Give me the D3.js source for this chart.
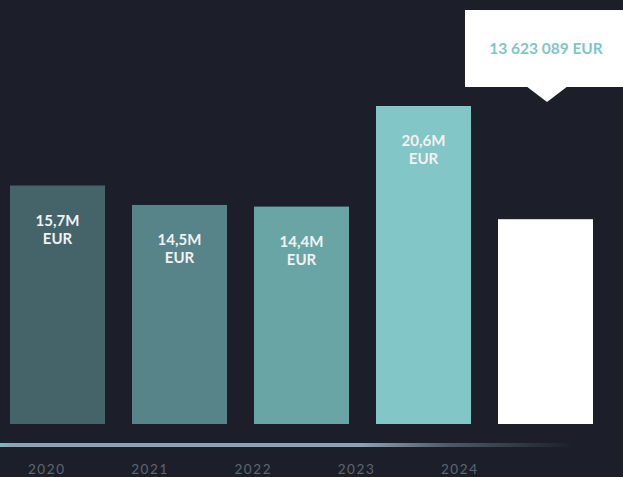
<!DOCTYPE html>
<html>
<head>
<meta charset="utf-8">
<script src="https://cdn.jsdelivr.net/npm/d3@7"></script>
<style>
  html, body { margin: 0; padding: 0; background: #1c1f29; overflow: hidden; }
  svg { display: block; }
</style>
</head>
<body>
<div id="chart"></div>
<script>
// data
var years = ["2020", "2021", "2022", "2023", "2024"];
var values = [15.7, 14.5, 14.4, 20.6, 13.623089];
var labels = ["15,7M", "14,5M", "14,4M", "20,6M", ""];
var barColors = ["#44646a", "#578488", "#6aa5a6", "#82c6c7", "#ffffff"];
var tooltipText = "13 623 089 EUR";

var width = 623, height = 477;

var svg = d3.select("#chart")
    .append("svg")
    .attr("width", width)
    .attr("height", height);

// scales
var x = d3.scaleBand()
    .domain(years)
    .range([10, 593])
    .paddingInner(0.221)
    .paddingOuter(0);

var y = d3.scaleLinear()
    .domain([1.0, 20.6])
    .range([424, 106]);

// year labels sit on their own, tighter spacing
var xLabel = d3.scalePoint()
    .domain(years)
    .range([46, 459]);

/*********************
 * BARS
*********************/
svg.append("g")
    .selectAll("rect")
    .data(years)
    .enter()
    .append("rect")
    .attr("x", function (d) { return Math.round(x(d)); })
    .attr("y", function (d, i) { return y(values[i]); })
    .attr("width", 95)
    .attr("height", function (d, i) { return y.range()[0] - y(values[i]); })
    .style("fill", function (d, i) { return barColors[i]; });

// value labels inside bars
var lbl = svg.append("g")
    .selectAll("text")
    .data(years.filter(function (d, i) { return labels[i] !== ""; }))
    .enter()
    .append("text")
    .attr("text-anchor", "middle")
    .style("font-family", "Lato, 'Open Sans', sans-serif")
    .style("font-weight", "700")
    .style("font-size", "15px")
    .style("fill", "#f2f2f2");

lbl.append("tspan")
    .attr("x", function (d) { return Math.round(x(d)) + 47.5; })
    .attr("y", function (d) { return y(values[years.indexOf(d)]) + 40; })
    .text(function (d) { return labels[years.indexOf(d)]; });

lbl.append("tspan")
    .attr("x", function (d) { return Math.round(x(d)) + 47.5; })
    .attr("y", function (d) { return y(values[years.indexOf(d)]) + 58; })
    .text("EUR");

/*********************
 * BASELINE (fading)
*********************/
var grad = svg.append("defs")
    .append("linearGradient")
    .attr("id", "fade")
    .attr("x1", "0%").attr("x2", "100%")
    .attr("y1", "0%").attr("y2", "0%");
grad.append("stop").attr("offset", "0%").attr("stop-color", "#7fb5bb");
grad.append("stop").attr("offset", "2%").attr("stop-color", "#8aa4b2");
grad.append("stop").attr("offset", "58%").attr("stop-color", "#8aa4b2");
grad.append("stop").attr("offset", "72%").attr("stop-color", "#8aa4b2").attr("stop-opacity", 0.45);
grad.append("stop").attr("offset", "92%").attr("stop-color", "#8aa4b2").attr("stop-opacity", 0);

svg.append("rect")
    .attr("x", 0)
    .attr("y", 443)
    .attr("width", 623)
    .attr("height", 4)
    .style("fill", "url(#fade)");

/*********************
 * YEAR LABELS
*********************/
svg.append("g")
    .selectAll("text")
    .data(years)
    .enter()
    .append("text")
    .attr("x", function (d) { return xLabel(d) + 0.75; })
    .attr("y", 474)
    .attr("text-anchor", "middle")
    .style("font-family", "Lato, 'Open Sans', sans-serif")
    .style("font-size", "13.5px")
    .style("letter-spacing", "1.6px")
    .style("fill", "#5d6672")
    .text(function (d) { return d; });

/*********************
 * TOOLTIP on last bar
*********************/
var last = years[years.length - 1];
var cx = Math.round(x(last)) + 49;

var tip = svg.append("g");
tip.append("rect")
    .attr("x", 465)
    .attr("y", 10)
    .attr("width", 170)
    .attr("height", 77)
    .style("fill", "#ffffff");
tip.append("path")
    .attr("d", "M" + (cx - 21) + ",86 L" + (cx + 21) + ",86 L" + cx + ",102 Z")
    .style("fill", "#ffffff");
tip.append("text")
    .attr("x", cx - 1)
    .attr("y", 54)
    .attr("text-anchor", "middle")
    .style("font-family", "Lato, 'Open Sans', sans-serif")
    .style("font-weight", "700")
    .style("font-size", "15.5px")
    .style("fill", "#7fc6c6")
    .text(tooltipText);
</script>
</body>
</html>
